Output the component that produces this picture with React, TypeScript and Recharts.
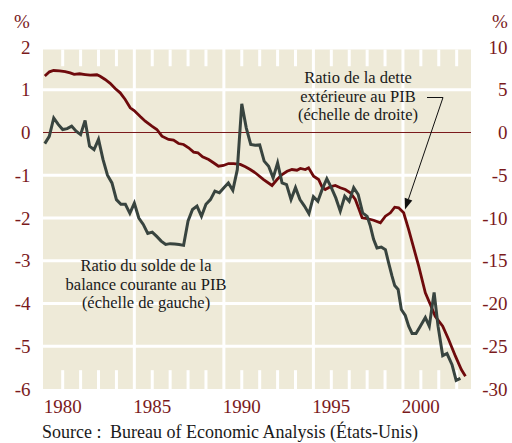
import { LineChart, Line, XAxis, YAxis, ReferenceLine, ReferenceArea } from "recharts";

// ratio du solde de la balance courante au PIB (%, échelle de gauche)
const currentYears = [
  1979.0, 1979.25, 1979.5, 1979.75, 1980.0, 1980.25, 1980.5, 1980.75,
  1981.0, 1981.25, 1981.5, 1981.75, 1982.0, 1982.25, 1982.5, 1982.75,
  1983.0, 1983.25, 1983.5, 1983.75, 1984.0, 1984.25, 1984.5, 1984.75,
  1985.0, 1985.25, 1985.5, 1985.75, 1986.0, 1986.25, 1986.5, 1986.75,
  1987.0, 1987.25, 1987.5, 1987.75, 1988.0, 1988.25, 1988.5, 1988.75,
  1989.0, 1989.25, 1989.5, 1989.75, 1990.0, 1990.25, 1990.5, 1990.75,
  1991.0, 1991.25, 1991.5, 1991.75, 1992.0, 1992.25, 1992.5, 1992.75,
  1993.0, 1993.25, 1993.5, 1993.75, 1994.0, 1994.25, 1994.5, 1994.75,
  1995.0, 1995.25, 1995.5, 1995.75, 1996.0, 1996.25, 1996.5, 1996.75,
  1997.0, 1997.18, 1997.36, 1997.55, 1997.79, 1998.02, 1998.2, 1998.39,
  1998.54, 1998.73, 1998.91, 1999.13, 1999.32, 1999.51, 1999.73, 1999.97,
  2000.25, 2000.47, 2000.74, 2000.96, 2001.22, 2001.46, 2001.74, 2001.97,
  2002.21,
];
const currentValues = [
  -0.26, -0.09, 0.34, 0.19, 0.07, 0.09, 0.15, 0.03,
  -0.05, 0.28, -0.32, -0.4, -0.16, -0.63, -1.0, -1.18,
  -1.57, -1.68, -1.68, -1.89, -1.65, -2.0, -2.15, -2.36,
  -2.33, -2.43, -2.54, -2.62, -2.6, -2.61, -2.62, -2.64,
  -2.07, -1.8, -1.72, -1.96, -1.68, -1.57, -1.37, -1.41,
  -1.29, -1.18, -1.35, -0.87, 0.67, 0.11, -0.28, -0.3,
  -0.29, -0.67, -0.79, -1.06, -0.71, -1.18, -1.22, -1.57,
  -1.29, -1.57, -1.72, -1.9, -1.5, -1.61, -1.32, -1.08,
  -1.29, -1.53, -1.84, -1.49, -1.61, -1.29, -1.45, -1.88,
  -1.96, -2.19, -2.5, -2.7, -2.68, -2.74, -3.05, -3.36,
  -3.58, -3.67, -4.14, -4.28, -4.53, -4.7, -4.7, -4.53,
  -4.33, -4.53, -3.74, -4.53, -5.22, -5.17, -5.43, -5.8,
  -5.75,
];

// ratio de la dette extérieure au PIB (%, échelle de droite)
const debtYears = [
  1979.0, 1979.26, 1979.49, 1979.82, 1980.14, 1980.42, 1980.64, 1980.94,
  1981.26, 1981.54, 1981.91, 1982.09, 1982.37, 1982.65, 1982.93, 1983.21,
  1983.49, 1983.77, 1983.99, 1984.33, 1984.61, 1984.98, 1985.26, 1985.54,
  1985.91, 1986.19, 1986.47, 1986.75, 1987.03, 1987.31, 1987.55, 1987.81,
  1988.15, 1988.42, 1988.7, 1988.98, 1989.26, 1989.54, 1989.92, 1990.2,
  1990.47, 1990.75, 1991.22, 1991.69, 1991.97, 1992.25, 1992.53, 1992.8,
  1993.08, 1993.27, 1993.55, 1993.73, 1994.01, 1994.29, 1994.48, 1994.66,
  1994.94, 1995.22, 1995.5, 1995.78, 1996.06, 1996.34, 1996.53, 1996.72,
  1996.99, 1997.36, 1997.74, 1998.02, 1998.3, 1998.54, 1998.76, 1999.04,
  1999.32, 1999.6, 1999.88, 2000.25, 2000.53, 2000.8, 2001.22, 2001.55,
  2001.93, 2002.26, 2002.49,
];
const debtValues = [
  6.6, 7.1, 7.25, 7.2, 7.13, 6.98, 6.8, 6.87,
  6.78, 6.7, 6.75, 6.58, 6.2, 5.75, 5.15, 4.64,
  3.86, 2.89, 2.57, 1.87, 1.32, 0.74, 0.35, -0.43,
  -0.82, -0.9, -1.29, -1.4, -1.79, -2.3, -2.37, -2.84,
  -3.16, -3.54, -3.94, -3.86, -3.63, -3.63, -3.74, -4.01,
  -4.33, -4.71, -5.5, -6.2, -5.5, -4.91, -4.53, -4.33,
  -4.41, -4.21, -4.33, -4.13, -5.11, -5.5, -6.35, -6.67,
  -6.35, -6.2, -6.47, -6.67, -7.05, -7.84, -8.89, -9.98,
  -10.06, -10.26, -10.56, -9.79, -9.39, -8.74, -8.81, -9.39,
  -11.35, -13.49, -15.64, -18.75, -20.12, -21.49, -22.66, -24.21,
  -26.16, -27.72, -28.5,
];

const leftTicks = [2, 1, 0, -1, -2, -3, -4, -5, -6];
const rightTicks = [10, 5, 0, -5, -10, -15, -20, -25, -30];
const yearLabels = [1980, 1985, 1990, 1995, 2000];
const gridYears = [1984, 1989, 1994, 1999];
const markYears = [
  1980, 1981, 1982, 1983, 1985, 1986, 1987, 1988, 1990, 1991, 1992, 1993,
  1995, 1996, 1997, 1998, 2000, 2001, 2002,
];
const gridValues = [1, -1, -2, -3, -4, -5];

const currentData = currentYears.map((year, i) => ({ year, v: currentValues[i] }));
const debtData = debtYears.map((year, i) => ({ year, v: debtValues[i] }));

const RED = "#7a1a1c";
const FONT = "'Liberation Serif', 'Times New Roman', serif";
const BG = "#eeeAD8";

const LeftTick = (p: any) => (
  <text x={p.x} y={p.y} dy="0.35em" textAnchor="end" fontFamily={FONT} fontSize={19} fill={RED}>
    {p.payload.value}
  </text>
);
const RightTick = (p: any) => (
  <text x={p.x} y={p.y} dy="0.35em" textAnchor="end" fontFamily={FONT} fontSize={19} fill={RED}>
    {p.payload.value}
  </text>
);
const YearTick = (p: any) => (
  <text x={p.x} y={p.y} dy="0.71em" textAnchor="middle" fontFamily={FONT} fontSize={19} fill={RED}>
    {p.payload.value}
  </text>
);

export default function App() {
  return (
    <div style={{ position: "absolute", left: 0, top: 0, width: 512, height: 443, background: "#fff" }}>
      <LineChart width={512} height={443} margin={{ top: 47, right: 0, bottom: 24, left: 0 }}>
        <XAxis
          dataKey="year"
          type="number"
          domain={[1978.9, 2002.8]}
          allowDataOverflow
          ticks={yearLabels}
          height={30}
          axisLine={false}
          tickLine={false}
          tickSize={0}
          tickMargin={11}
          tick={YearTick}
        />
        <YAxis
          yAxisId="left"
          domain={[-6, 2]}
          ticks={leftTicks}
          width={43}
          axisLine={false}
          tickLine={false}
          tickSize={0}
          tickMargin={12.5}
          tick={LeftTick}
        />
        <YAxis
          yAxisId="right"
          orientation="right"
          domain={[-30, 10]}
          ticks={rightTicks}
          width={41}
          axisLine={false}
          tickLine={false}
          tickSize={0}
          tickMargin={36.5}
          tick={RightTick}
        />
        <ReferenceArea yAxisId="left" x1={1978.9} x2={2002.8} y1={-6} y2={1.94} fill={BG} fillOpacity={1} stroke="none" />
        {gridValues.map((v) => (
          <ReferenceLine key={"h" + v} yAxisId="left" y={v} stroke="#fff" strokeWidth={3} />
        ))}
        {gridYears.map((yr) => (
          <ReferenceLine key={"v" + yr} yAxisId="left" x={yr} stroke="#fff" strokeWidth={3} />
        ))}
        {markYears.map((yr) => (
          <ReferenceLine key={"t" + yr} yAxisId="left" segment={[{ x: yr, y: 1.94 }, { x: yr, y: 1.55 }]} stroke="#fff" strokeWidth={3} />
        ))}
        {markYears.map((yr) => (
          <ReferenceLine key={"b" + yr} yAxisId="left" segment={[{ x: yr, y: -6 }, { x: yr, y: -5.56 }]} stroke="#fff" strokeWidth={3} />
        ))}
        <ReferenceLine yAxisId="left" y={0} stroke={RED} strokeWidth={1.2} />
        <Line
          yAxisId="right"
          data={debtData}
          dataKey="v"
          type="linear"
          stroke="#6e0a0c"
          strokeWidth={2.8}
          dot={false}
          isAnimationActive={false}
        />
        <Line
          yAxisId="left"
          data={currentData}
          dataKey="v"
          type="linear"
          stroke="#38443f"
          strokeWidth={3}
          dot={false}
          isAnimationActive={false}
        />
      </LineChart>

      <svg width={512} height={443} style={{ position: "absolute", left: 0, top: 0, pointerEvents: "none" }}>
        <g fontFamily={FONT}>
          <text x={22} y={28} textAnchor="middle" fontSize={19} fill={RED}>%</text>
          <text x={500} y={28} textAnchor="middle" fontSize={19} fill={RED}>%</text>

          <g fontSize={16.5} fill="#1a1a1a" textAnchor="middle">
            <text x={358} y={83}>Ratio de la dette</text>
            <text x={358} y={101.5}>extérieure au PIB</text>
            <text x={358} y={120}>(échelle de droite)</text>

            <text x={146} y={271}>Ratio du solde de la</text>
            <text x={146} y={289.5}>balance courante au PIB</text>
            <text x={146} y={308}>(échelle de gauche)</text>
          </g>

          <path d="M427,97.5 H443 L408.5,199" fill="none" stroke="#111" strokeWidth={1} />
          <polygon points="405,209.5 412.3,200.4 404.7,197.8" fill="#111" />

          <text x={42} y={438} fontSize={18} fill="#1a1a1a">Source :</text>
          <text x={110} y={438} fontSize={18} fill="#1a1a1a">Bureau of Economic Analysis (États-Unis)</text>
        </g>
      </svg>
    </div>
  );
}
